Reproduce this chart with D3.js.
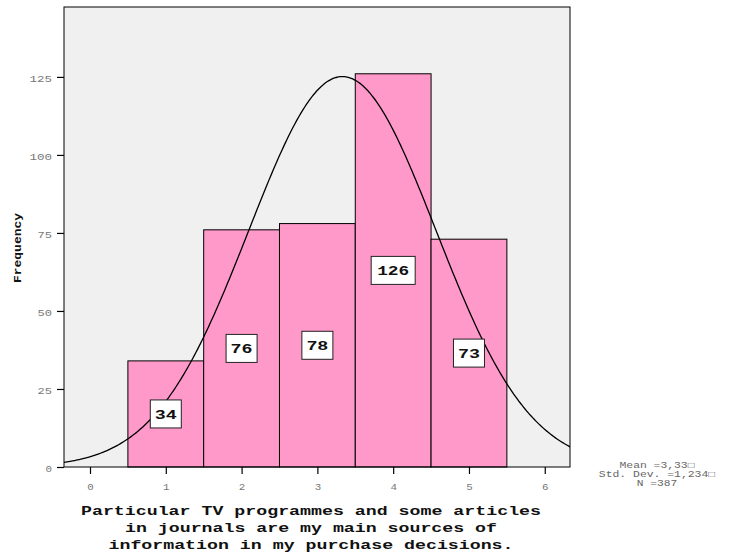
<!DOCTYPE html>
<html><head><meta charset="utf-8">
<script src="https://cdn.jsdelivr.net/npm/d3@7"></script>
<style>
body{margin:0;background:#fff;}
svg{display:block;}
</style></head>
<body>
<script>
// ---- data ----
const categories = [1, 2, 3, 4, 5];
const frequencies = [34, 76, 78, 126, 73];
const yTicks = [0, 25, 50, 75, 100, 125];
const xTicks = [0, 1, 2, 3, 4, 5, 6];
const mean = 3.33;
const stdDev = 1.234;
const nObs = 387;
const statLines = ["Mean =3,33\u25A1", "Std. Dev. =1,234\u25A1", "N =387"];
const titleLines = [
  "Particular TV programmes and some articles",
  "in journals are my main sources of",
  "information in my purchase decisions."
];
const yTitle = "Frequency";

// ---- layout ----
const W = 738, H = 556;
const pLeft = 64, pRight = 570, pTop = 7, pBottom = 467;
const mono = "'Liberation Mono','DejaVu Sans Mono',monospace";

const svg = d3.select("body").append("svg").attr("width", W).attr("height", H);

const x = d3.scaleLinear().domain([-0.343, 6.333]).range([pLeft, pRight]);
const y = d3.scaleLinear().domain([0, 147.4]).range([pBottom, pTop]);

// plot background
svg.append("rect").attr("x", pLeft).attr("y", pTop)
  .attr("width", pRight - pLeft).attr("height", pBottom - pTop)
  .attr("fill", "#f0f0f0");

svg.append("clipPath").attr("id", "clip").append("rect")
  .attr("x", pLeft).attr("y", pTop).attr("width", pRight - pLeft).attr("height", pBottom - pTop);

// bars
svg.append("g").selectAll("rect").data(categories).join("rect")
  .attr("x", d => x(d - 0.5))
  .attr("y", (d, i) => y(frequencies[i]))
  .attr("width", d => x(d + 0.5) - x(d - 0.5))
  .attr("height", (d, i) => y(0) - y(frequencies[i]))
  .attr("fill", "#fe99c9")
  .attr("stroke", "#000")
  .attr("stroke-width", 1);

// normal curve
const curvePts = d3.range(-0.343, 6.34, 0.02).map(v => [v,
  nObs / (stdDev * Math.sqrt(2 * Math.PI)) * Math.exp(-0.5 * Math.pow((v - mean) / stdDev, 2))]);
svg.append("path").datum(curvePts)
  .attr("clip-path", "url(#clip)")
  .attr("fill", "none").attr("stroke", "#000").attr("stroke-width", 1.3)
  .attr("d", d3.line().x(d => x(d[0])).y(d => y(d[1])).curve(d3.curveBasis));

// bar labels
const lab = svg.append("g").selectAll("g").data(categories).join("g")
  .attr("transform", (d, i) => `translate(${x(d)},${y(frequencies[i] / 2)})`);
lab.append("rect")
  .attr("x", (d, i) => -(String(frequencies[i]).length === 3 ? 22 : 15.5))
  .attr("y", -14)
  .attr("width", (d, i) => String(frequencies[i]).length === 3 ? 44 : 31)
  .attr("height", 28)
  .attr("fill", "#fff").attr("stroke", "#222").attr("stroke-width", 1);
lab.append("text")
  .attr("text-anchor", "middle")
  .attr("dy", "0.37em")
  .attr("font-family", mono).attr("font-weight", "bold").attr("font-size", 13)
  .attr("textLength", (d, i) => String(frequencies[i]).length === 3 ? 32 : 22)
  .attr("lengthAdjust", "spacingAndGlyphs")
  .attr("fill", "#111")
  .text((d, i) => frequencies[i]);

// plot border
svg.append("rect").attr("x", pLeft).attr("y", pTop)
  .attr("width", pRight - pLeft).attr("height", pBottom - pTop)
  .attr("fill", "none").attr("stroke", "#000").attr("stroke-width", 1);

// y axis
const ya = svg.append("g").attr("transform", `translate(${pLeft},0)`)
  .call(d3.axisLeft(y).tickValues(yTicks).tickSize(7).tickPadding(5).tickFormat(d3.format("d")));
ya.select(".domain").remove();
ya.selectAll("line").attr("stroke", "#000").attr("stroke-width", 1.2);
ya.selectAll("text")
  .attr("font-family", mono).attr("font-size", 9).attr("fill", "#777")
  .attr("textLength", d => String(d).length * 8 - 1.5).attr("lengthAdjust", "spacingAndGlyphs")
  .attr("dy", "0.5em");

// x axis
const xa = svg.append("g").attr("transform", `translate(0,${pBottom})`)
  .call(d3.axisBottom(x).tickValues(xTicks).tickSize(7).tickPadding(10).tickFormat(d3.format("d")));
xa.select(".domain").remove();
xa.selectAll("line").attr("stroke", "#000").attr("stroke-width", 1.2);
xa.selectAll("text")
  .attr("font-family", mono).attr("font-size", 9).attr("fill", "#777")
  .attr("textLength", 6.5).attr("lengthAdjust", "spacingAndGlyphs");

// y title
svg.append("text")
  .attr("transform", "translate(21,248) rotate(-90)")
  .attr("text-anchor", "middle")
  .attr("font-family", mono).attr("font-weight", "bold").attr("font-size", 11.5)
  .attr("textLength", 70).attr("lengthAdjust", "spacingAndGlyphs")
  .attr("fill", "#111")
  .text(yTitle);

// x title
svg.append("g").selectAll("text").data(titleLines).join("text")
  .attr("x", 311)
  .attr("y", (d, i) => 515 + i * 17)
  .attr("text-anchor", "middle")
  .attr("font-family", mono).attr("font-weight", "bold").attr("font-size", 12.5)
  .attr("textLength", d => d.length * 11 - 2).attr("lengthAdjust", "spacingAndGlyphs")
  .attr("fill", "#111")
  .text(d => d);

// stats
svg.append("g").selectAll("text").data(statLines).join("text")
  .attr("x", 657)
  .attr("y", (d, i) => 468 + i * 9)
  .attr("text-anchor", "middle")
  .attr("font-family", mono).attr("font-size", 8.5)
  .attr("textLength", d => d.length * 6.9 - 1).attr("lengthAdjust", "spacingAndGlyphs")
  .attr("fill", "#666")
  .text(d => d);
</script>
</body></html>
